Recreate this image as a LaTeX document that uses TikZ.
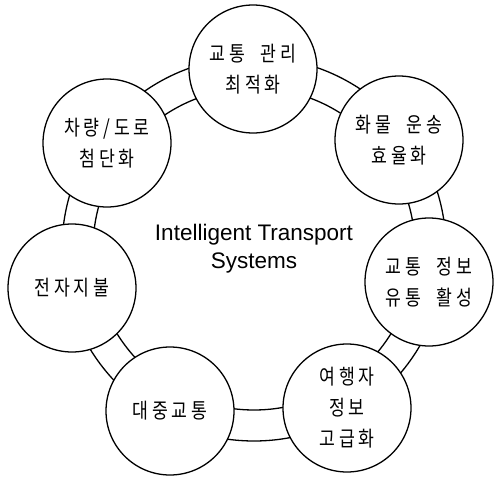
\documentclass[tikz,border=0pt]{standalone}
\usepackage{fontspec}
\setmainfont{Liberation Sans}
\newfontfamily\kr[FakeStretch=0.82,LetterSpace=18,WordSpace=2]{Noto Sans CJK KR}

\begin{document}
\begin{tikzpicture}[x=1pt, y=-1pt, line width=1.3pt, line join=round, line cap=round,
		bubble/.style={circle, draw, fill=white, minimum size=128pt, inner sep=0pt, align=center,
			font=\kr\fontsize{21}{31}\selectfont}]
				\useasboundingbox (0,0) rectangle (496,479);
				\path 
				(254,249) coordinate (O)
				;
				\draw (O) circle (161pt);
				\draw (O) circle (192pt);
				\node[bubble] (gwanri) at (253,69) {교통 관리\\최적화};
				\node[bubble] (hwamul) at (399,140) {화물 운송\\효율화};
				\node[bubble] (jeongbo) at (429,282) {교통 정보\\유통 활성};
				\node[bubble] (yeohaeng) at (347,408) {여행자\\정보\\고급화};
				\node[bubble] (daejung) at (170,411) {대중교통};
				\node[bubble] (jibul) at (72,288) {전자지불};
				\node[bubble] (chaldo) at (107,143) {차량/도로\\첨단화};
				\node[align=center, font=\fontsize{22.5}{28}\selectfont] (its) at (O) {Intelligent Transport\\Systems};
			\end{tikzpicture}
\end{document}
